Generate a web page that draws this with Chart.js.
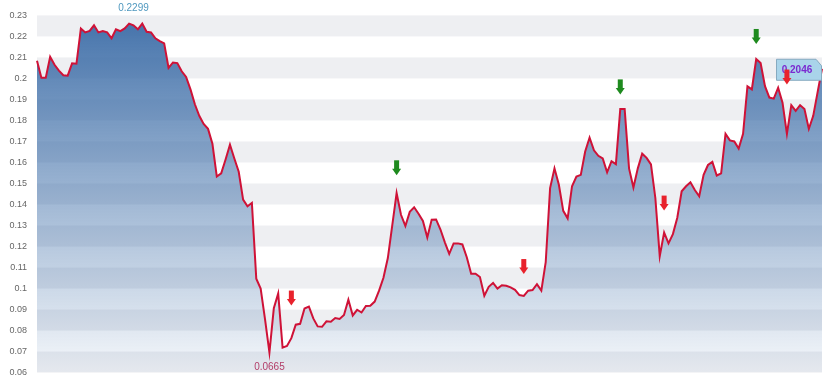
<!DOCTYPE html>
<html>
<head>
<meta charset="utf-8">
<title>price chart</title>
<script src="https://cdn.jsdelivr.net/npm/chart.js@4.4.1/dist/chart.umd.min.js"></script>
<style>
  html, body { margin: 0; padding: 0; background: #fff; }
  #priceChart { display: block; }
</style>
</head>
<body>
<canvas id="priceChart" width="830" height="388"></canvas>
<script>
// closing prices, one per session
const closes = [
  0.2084, 0.2003, 0.2003, 0.2103, 0.2065, 0.2037, 0.2015, 0.2013, 0.2072, 0.2070,
  0.2238, 0.2219, 0.2226, 0.2253, 0.2219, 0.2226, 0.2219, 0.2191, 0.2234, 0.2225,
  0.2238, 0.2261, 0.2253, 0.2234, 0.2261, 0.2222, 0.2219, 0.2191, 0.2178, 0.2167,
  0.2050, 0.2076, 0.2073, 0.2034, 0.2007, 0.1948, 0.1877, 0.1822, 0.1783, 0.1760,
  0.1689, 0.1533, 0.1548, 0.1614, 0.1685, 0.1619, 0.1556, 0.1423, 0.1392, 0.1408,
  0.1047, 0.1000, 0.0853, 0.0695, 0.0906, 0.0977, 0.0719, 0.0727, 0.0764, 0.0828,
  0.0832, 0.0905, 0.0914, 0.0858, 0.0820, 0.0818, 0.0844, 0.0842, 0.0860, 0.0855,
  0.0874, 0.0947, 0.0872, 0.0899, 0.0886, 0.0917, 0.0918, 0.0938, 0.0990, 0.1051,
  0.1145, 0.1300, 0.1455, 0.1351, 0.1298, 0.1365, 0.1387, 0.1356, 0.1322, 0.1243,
  0.1328, 0.1329, 0.1281, 0.1220, 0.1165, 0.1215, 0.1215, 0.1210, 0.1149, 0.1071,
  0.1071, 0.1055, 0.0966, 0.1008, 0.1027, 0.1000, 0.1016, 0.1013, 0.1006, 0.0994,
  0.0969, 0.0965, 0.0990, 0.0993, 0.1021, 0.0990, 0.1126, 0.1478, 0.1572, 0.1494,
  0.1370, 0.1334, 0.1487, 0.1533, 0.1541, 0.1652, 0.1718, 0.1658, 0.1632, 0.1619,
  0.1553, 0.1606, 0.1592, 0.1854, 0.1854, 0.1572, 0.1481, 0.1572, 0.1642, 0.1622,
  0.1591, 0.1431, 0.1154, 0.1267, 0.1215, 0.1259, 0.1337, 0.1463, 0.1487, 0.1506,
  0.1469, 0.1439, 0.1541, 0.1588, 0.1603, 0.1538, 0.1548, 0.1736, 0.1705, 0.1700,
  0.1666, 0.1736, 0.1963, 0.1948, 0.2092, 0.2073, 0.1963, 0.1909, 0.1904, 0.1956,
  0.1885, 0.1736, 0.1873, 0.1846, 0.1873, 0.1854, 0.1760, 0.1822, 0.1935, 0.2046
];
const sessions = closes.map((_, i) => i); // no dates shown on the axis

const yTicks = [0.23, 0.22, 0.21, 0.2, 0.19, 0.18, 0.17, 0.16, 0.15, 0.14, 0.13, 0.12, 0.11, 0.1, 0.09, 0.08, 0.07, 0.06];

// buy / sell signal arrows: session index + price the arrow tip points at
const buyIdx = [82, 133, 164];
const buyVal = [0.1539, 0.1924, 0.2164];
const sellIdx = [58, 111, 143, 171];
const sellVal = [0.0919, 0.1069, 0.1371, 0.1971];

// period high / low markers
const highIdx = 22, highVal = 0.2299;
const lowIdx = 53, lowVal = 0.0665;

// striped background rows between ticks
const bandsPlugin = {
  id: 'bands',
  beforeDatasetsDraw(chart) {
    const { ctx, chartArea, scales: { y } } = chart;
    ctx.save();
    ctx.fillStyle = '#eeeff2';
    for (let i = 0; i < yTicks.length - 1; i += 2) {
      const top = y.getPixelForValue(yTicks[i]);
      const bot = y.getPixelForValue(yTicks[i + 1]);
      ctx.fillRect(chartArea.left, top, chartArea.right - chartArea.left, bot - top);
    }
    ctx.restore();
  }
};

function drawArrow(ctx, x, tip, color) {
  ctx.fillStyle = color;
  ctx.fillRect(x - 2.5, tip - 15, 5, 9);
  ctx.beginPath();
  ctx.moveTo(x - 4.5, tip - 6.5);
  ctx.lineTo(x + 4.5, tip - 6.5);
  ctx.lineTo(x, tip);
  ctx.closePath();
  ctx.fill();
}

// last price tag, signals and hi/lo labels on top of the line
const markersPlugin = {
  id: 'markers',
  afterDatasetsDraw(chart) {
    const { ctx, scales: { x, y } } = chart;
    ctx.save();

    // last value tag
    const last = closes.length - 1;
    const px = x.getPixelForValue(last);
    const py = y.getPixelForValue(closes[last]) + 1;
    ctx.beginPath();
    ctx.moveTo(px - 45.5, py - 10.5);
    ctx.lineTo(px - 6, py - 10.5);
    ctx.lineTo(px - 0.5, py - 4);
    ctx.lineTo(px - 0.5, py + 10.5);
    ctx.lineTo(px - 45.5, py + 10.5);
    ctx.closePath();
    ctx.fillStyle = '#a9d4ea';
    ctx.fill();
    ctx.strokeStyle = '#86aac0';
    ctx.lineWidth = 1;
    ctx.stroke();
    ctx.fillStyle = '#7a2ad0';
    ctx.font = 'bold 10px "Liberation Sans", Arial, sans-serif';
    ctx.textAlign = 'center';
    ctx.textBaseline = 'middle';
    ctx.fillText(closes[last].toFixed(4), px - 25, py);

    buyIdx.forEach((idx, i) => drawArrow(ctx, x.getPixelForValue(idx), y.getPixelForValue(buyVal[i]), '#1e8a1e'));
    sellIdx.forEach((idx, i) => drawArrow(ctx, x.getPixelForValue(idx), y.getPixelForValue(sellVal[i]), '#e8222c'));

    ctx.font = '10px "Liberation Sans", Arial, sans-serif';
    ctx.textAlign = 'center';
    ctx.fillStyle = '#4f98bf';
    ctx.textBaseline = 'bottom';
    ctx.fillText(highVal.toFixed(4), x.getPixelForValue(highIdx), y.getPixelForValue(highVal) - 2);
    ctx.fillStyle = '#b23d68';
    ctx.textBaseline = 'top';
    ctx.fillText(lowVal.toFixed(4), x.getPixelForValue(lowIdx), y.getPixelForValue(lowVal) + 3);

    ctx.restore();
  }
};

Chart.defaults.font.family = '"Liberation Sans", Arial, sans-serif';

const ctx = document.getElementById('priceChart').getContext('2d');
new Chart(ctx, {
  type: 'line',
  data: {
    labels: sessions,
    datasets: [{
      data: closes,
      borderColor: '#cf1237',
      borderWidth: 2,
      pointRadius: 0,
      tension: 0,
      fill: 'start',
      backgroundColor(c) {
        const area = c.chart.chartArea;
        if (!area) return 'rgba(62,110,168,0.5)';
        const g = c.chart.ctx.createLinearGradient(0, area.top, 0, area.bottom);
        g.addColorStop(0, 'rgba(62,110,168,0.97)');
        g.addColorStop(1, 'rgba(62,110,168,0.05)');
        return g;
      }
    }]
  },
  options: {
    responsive: false,
    animation: false,
    layout: { padding: { top: 15, right: 8, bottom: 11, left: 0 } },
    plugins: { legend: { display: false }, tooltip: { enabled: false } },
    scales: {
      x: { display: false },
      y: {
        min: 0.06,
        max: 0.23,
        afterBuildTicks(scale) { scale.ticks = yTicks.map(v => ({ value: v })); },
        afterFit(scale) { scale.width = 37; },
        border: { display: false },
        grid: { display: false, drawTicks: false },
        ticks: {
          padding: 10,
          color: '#666',
          font: { size: 9 },
          callback: v => String(+v.toFixed(2))
        }
      }
    }
  },
  plugins: [bandsPlugin, markersPlugin]
});
</script>
</body>
</html>
